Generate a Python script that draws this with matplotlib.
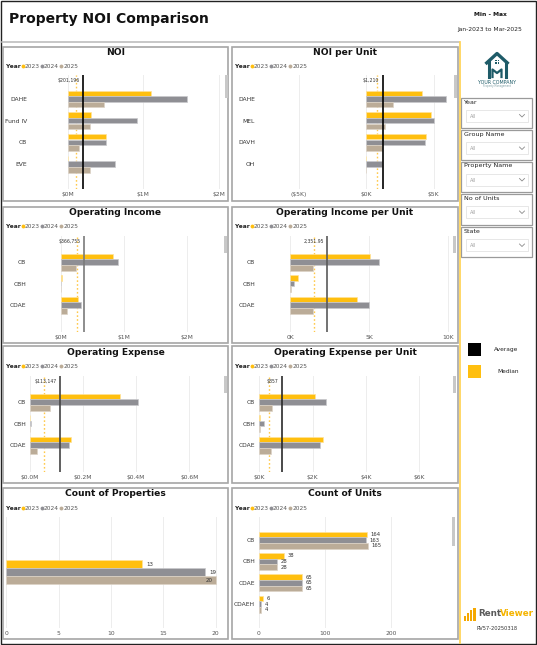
import matplotlib
matplotlib.use("Agg")
import matplotlib.pyplot as plt
from matplotlib.patches import Rectangle
import numpy as np

W, H = 537, 645

years = ["2023", "2024", "2025"]
year_colors = ["#FFBF0F", "#8F8F94", "#BBAC98"]
edge_colors = ["#FFE39A", "#C9C9CC", "#DDD3C6"]

# NOI ($M)
noi_cats = ["DAHE", "Fund IV", "CB", "EVE"]
noi_2023 = [1.10, 0.31, 0.50, 0.0]
noi_2024 = [1.58, 0.92, 0.50, 0.63]
noi_2025 = [0.48, 0.29, 0.15, 0.29]
noi_avg, noi_med = 0.201196, 0.10

# NOI per unit ($K)
npu_cats = ["DAHE", "MEL", "DAVH", "OH"]
npu_2023 = [4.11, 4.78, 4.41, 0.0]
npu_2024 = [5.92, 5.05, 4.36, 1.19]
npu_2025 = [1.96, 1.41, 1.19, 0.0]
npu_avg, npu_med = 1.210, 0.77

# Operating income ($M)
oi_cats = ["CB", "CBH", "CDAE"]
oi_2023 = [0.83, 0.016, 0.27]
oi_2024 = [0.91, 0.005, 0.32]
oi_2025 = [0.24, 0.0, 0.095]
oi_avg, oi_med = 0.366755, 0.25

# Operating income per unit ($K)
oipu_cats = ["CB", "CBH", "CDAE"]
oipu_2023 = [5.04, 0.49, 4.22]
oipu_2024 = [5.59, 0.21, 5.00]
oipu_2025 = [1.41, 0.02, 1.41]
oipu_avg, oipu_med = 2.35195, 1.50

# Operating expense ($M)
oe_cats = ["CB", "CBH", "CDAE"]
oe_2023 = [0.340, 0.001, 0.154]
oe_2024 = [0.406, 0.004, 0.148]
oe_2025 = [0.078, 0.0, 0.029]
oe_avg, oe_med = 0.113147, 0.053

# Operating expense per unit ($K)
oepu_cats = ["CB", "CBH", "CDAE"]
oepu_2023 = [2.08, 0.03, 2.38]
oepu_2024 = [2.51, 0.18, 2.29]
oepu_2025 = [0.46, 0.01, 0.43]
oepu_avg, oepu_med = 0.857, 0.375

# Counts
prop_counts = [13, 19, 20]
unit_cats = ["CB", "CBH", "CDAE", "CDAEH"]
units_2023 = [164, 38, 65, 6]
units_2024 = [163, 28, 65, 4]
units_2025 = [165, 28, 65, 4]

slicers = ["Year", "Group Name", "Property Name", "No of Units", "State"]

fig = plt.figure(figsize=(W / 100, H / 100), dpi=100)
fig.patch.set_facecolor("white")

bg = fig.add_axes([0, 0, 1, 1])
bg.set_xlim(0, W)
bg.set_ylim(H, 0)
bg.axis("off")


def rect(x0, y0, x1, y1, **kw):
    bg.add_patch(Rectangle((x0, y0), x1 - x0, y1 - y0, **kw))


def px_axes(L, R, top, bottom):
    ax = fig.add_axes([L / W, 1 - bottom / H, (R - L) / W, (bottom - top) / H])
    ax.patch.set_alpha(0)
    for s in ax.spines.values():
        s.set_visible(False)
    return ax


def legend(x, y):
    bg.text(x, y, "Year", fontsize=4.2, fontweight="bold", va="center", color="#222")
    for k, (yr, c) in enumerate(zip(years, year_colors)):
        bg.plot(x + 16.7 + 19.3 * k, y, "o", ms=2.8, color=c, mec="none")
        bg.text(x + 18.5 + 19.3 * k, y, yr, fontsize=4.2, va="center", color="#555")


def panel(x0, y0, x1, y1, title, ty, ly):
    rect(x0, y0, x1, y1, fill=False, ec="#a6a6a6", lw=1.2)
    bg.text((x0 + x1) / 2, ty, title, fontsize=6.6, fontweight="bold", ha="center",
            va="center", color="#111")
    legend(x0 + 3, ly)


def bar_panel(L, R, top, bottom, p0, scale, c0, step, cats, series, ticks, tlabels,
              lab_right, avg=None, med=None, avg_text=None, avg_color="black"):
    ax = px_axes(L, R, top, bottom)
    ax.set_xlim((L - p0) / scale, (R - p0) / scale)
    ax.set_ylim((bottom - c0) / step, (top - c0) / step)
    y = np.arange(len(cats))
    off = 5.7 / step
    h = 5.6 / step
    for k, vals in enumerate(series):
        ax.barh(y + (k - 1) * off, vals, height=h, color=year_colors[k],
                edgecolor=edge_colors[k], lw=0.5, zorder=2)
    ax.set_yticks(y)
    ax.set_yticklabels(cats, fontsize=4.3, color="#333")
    ax.tick_params(axis="y", length=0, pad=(L - lab_right) / 1.389)
    ax.set_xticks(ticks)
    ax.set_xticklabels(tlabels, fontsize=4.3, color="#555")
    ax.tick_params(axis="x", length=0, pad=2.5)
    ax.grid(axis="x", color="#ededed", lw=0.7, zorder=0)
    ax.set_axisbelow(True)
    if med is not None:
        ax.axvline(med, color="#FFC94A", ls=(0, (1.2, 1.6)), lw=1.0, zorder=1.5)
    if avg is not None:
        ax.axvline(avg, color=avg_color, lw=1.2, zorder=4)
        ax.annotate(avg_text, xy=(avg, 1), xycoords=("data", "axes fraction"),
                    xytext=(-2.5, -3.8), textcoords="offset points", ha="right",
                    va="center", fontsize=3.3, color="#333")
    return ax


# outer frame and header
rect(1, 1, 536, 644, fill=False, ec="#222", lw=1.0)
bg.text(9, 19, "Property NOI Comparison", fontsize=10, fontweight="bold",
        va="center", color="#111")
bg.text(490, 15, "Min - Max", fontsize=4.3, fontweight="bold", ha="center",
        va="center", color="#111")
bg.text(490, 29, "Jan-2023 to Mar-2025", fontsize=4.3, ha="center", va="center",
        color="#222")
bg.plot([2, 459], [42, 42], color="#bdbdbd", lw=1.2)
bg.plot([459.5, 459.5], [42, 643], color="#FFD45C", lw=1.3)

# panels
panel(3, 46.5, 228, 200.5, "NOI", 52.5, 66)
panel(232, 46.5, 458, 200.5, "NOI per Unit", 52.5, 66)
panel(3, 206.5, 228, 343, "Operating Income", 212.5, 226)
panel(232, 206.5, 458, 343, "Operating Income per Unit", 212.5, 226)
panel(3, 346, 228, 483, "Operating Expense", 352.5, 366)
panel(232, 346, 458, 483, "Operating Expense per Unit", 352.5, 366)
panel(3, 487.5, 228, 638.5, "Count of Properties", 494, 508)
panel(232, 487.5, 458, 638.5, "Count of Units", 494, 508)

# scrollbars
for sx, sy0, sy1 in [(225, 75, 98), (454, 75, 98), (224, 236, 253), (453, 236, 253),
                     (224, 376, 393), (453, 376, 393), (452, 517, 546)]:
    rect(sx, sy0, sx + 2.8, sy1, color="#c8c8c8", lw=0)

bar_panel(68, 224, 75, 189, 68, 75.3, 99, 21.7, noi_cats,
          [noi_2023, noi_2024, noi_2025], [0, 1, 2], ["$0M", "$1M", "$2M"], 27,
          noi_avg, noi_med, "$201,196", "black")
bar_panel(265, 452, 75, 189, 366.3, 13.46, 99, 21.7, npu_cats,
          [npu_2023, npu_2024, npu_2025], [-5, 0, 5], ["($5K)", "$0K", "$5K"], 255,
          npu_avg, npu_med, "$1,210", "black")
bar_panel(61, 224, 236, 332, 61, 63.0, 262, 21.5, oi_cats,
          [oi_2023, oi_2024, oi_2025], [0, 1, 2], ["$0M", "$1M", "$2M"], 26,
          oi_avg, oi_med, "$366,755", "#7a7a7a")
bar_panel(290.3, 454, 236, 332, 290.3, 15.8, 262, 21.5, oipu_cats,
          [oipu_2023, oipu_2024, oipu_2025], [0, 5, 10], ["0K", "5K", "10K"], 255,
          oipu_avg, oipu_med, "2,351.95", "#5a5a5a")
bar_panel(29.7, 224, 376, 472, 29.7, 266.0, 402, 21.5, oe_cats,
          [oe_2023, oe_2024, oe_2025], [0, 0.2, 0.4, 0.6],
          ["$0.0M", "$0.2M", "$0.4M", "$0.6M"], 26,
          oe_avg, oe_med, "$113,147", "#444444")
bar_panel(259.3, 454, 376, 472, 259.3, 26.67, 402, 21.5, oepu_cats,
          [oepu_2023, oepu_2024, oepu_2025], [0, 2, 4, 6],
          ["$0K", "$2K", "$4K", "$6K"], 255,
          oepu_avg, oepu_med, "$857", "#2a2a2a")

# count of properties
axp = px_axes(6.3, 224, 517, 628)
axp.set_xlim(0, (224 - 6.3) / 10.47)
axp.set_ylim((628 - 572) / 32, (517 - 572) / 32)
for k, v in enumerate(prop_counts):
    axp.barh((k - 1) * 0.25, v, height=0.235, color=year_colors[k],
             edgecolor=edge_colors[k], lw=0.5, zorder=2)
    if k < 2:
        axp.text(v + 0.4, (k - 1) * 0.25, str(v), fontsize=4, va="center", color="#333")
    else:
        axp.text(v - 0.25, (k - 1) * 0.25, str(v), fontsize=4, va="center", ha="right",
                 color="#333")
axp.set_yticks([])
axp.set_xticks([0, 5, 10, 15, 20])
axp.set_xticklabels(["0", "5", "10", "15", "20"], fontsize=4.3, color="#555")
axp.tick_params(axis="x", length=0, pad=2.5)
axp.grid(axis="x", color="#ededed", lw=0.7, zorder=0)
axp.set_axisbelow(True)

# count of units
axu = bar_panel(258.7, 454, 517, 628, 258.7, 0.66, 540, 21.4, unit_cats,
                [units_2023, units_2024, units_2025], [0, 100, 200],
                ["0", "100", "200"], 255)
for k, vals in enumerate([units_2023, units_2024, units_2025]):
    for i, v in enumerate(vals):
        axu.text(v + 5.5, i + (k - 1) * 5.7 / 21.4, str(v), fontsize=3.8,
                 va="center", color="#333")

# side panel: logo
teal = "#1E5B68"
bg.plot([485.5, 497, 508.5], [64, 53.5, 64], color=teal, lw=2.4, solid_capstyle="butt")
bg.plot([488.5, 488.5], [62, 77], color=teal, lw=2.2)
bg.plot([505.5, 505.5], [62, 77], color=teal, lw=2.2)
bg.plot([492.5, 492.5, 497, 501.5, 501.5], [77, 69.5, 73, 69.5, 77], color=teal, lw=1.6)
for wx, wy in [(495.2, 59.5), (497.6, 59.5), (495.2, 61.9), (497.6, 61.9)]:
    rect(wx, wy, wx + 1.8, wy + 1.8, color=teal, lw=0)
bg.text(497, 82.5, "YOUR COMPANY", fontsize=3.4, ha="center", va="center", color=teal)
bg.text(497, 86.5, "Property Management", fontsize=1.8, ha="center", va="center",
        color="#7a9aa0")

# slicers
slicer_y = [(97.5, 128), (130, 160), (161.5, 191.5), (194, 225), (227, 257)]
for name, (sy0, sy1) in zip(slicers, slicer_y):
    rect(461, sy0, 532, sy1, fill=False, ec="#9a9a9a", lw=0.9)
    bg.text(463.5, sy0 + 4.5, name, fontsize=4.6, va="center", color="#222")
    iy0 = sy0 + 12
    rect(466, iy0, 528, iy0 + 12, fc="white", ec="#e3e3e3", lw=0.6)
    bg.text(470, iy0 + 6.5, "All", fontsize=3.6, va="center", color="#a0a0a0")
    bg.plot([519.5, 522, 524.5], [iy0 + 5, iy0 + 7.5, iy0 + 5], color="#8a8a8a", lw=0.6)

# average / median key
rect(468, 343, 481, 356, color="black", lw=0)
bg.text(494, 349.5, "Average", fontsize=4.2, va="center", color="#222")
rect(468, 365, 481, 377.5, color="#FFBF0F", lw=0)
bg.text(497, 371.5, "Median", fontsize=4.2, va="center", color="#222")

# footer logo
for k, hgt in enumerate([5, 8, 11, 13]):
    rect(463.5 + k * 3.2, 620.5 - hgt, 463.5 + k * 3.2 + 2.4, 620.5, color="#F5A800", lw=0)
bg.text(478, 614, "Rent", fontsize=6.3, fontweight="bold", va="center", color="#5a5a5a")
bg.text(499.5, 614, "Viewer", fontsize=6.3, fontweight="bold", va="center",
        color="#F5B400")
bg.text(497, 629, "RV57-20250318", fontsize=3.7, ha="center", va="center", color="#333")

fig.savefig("out.png", dpi=100, facecolor="white")
